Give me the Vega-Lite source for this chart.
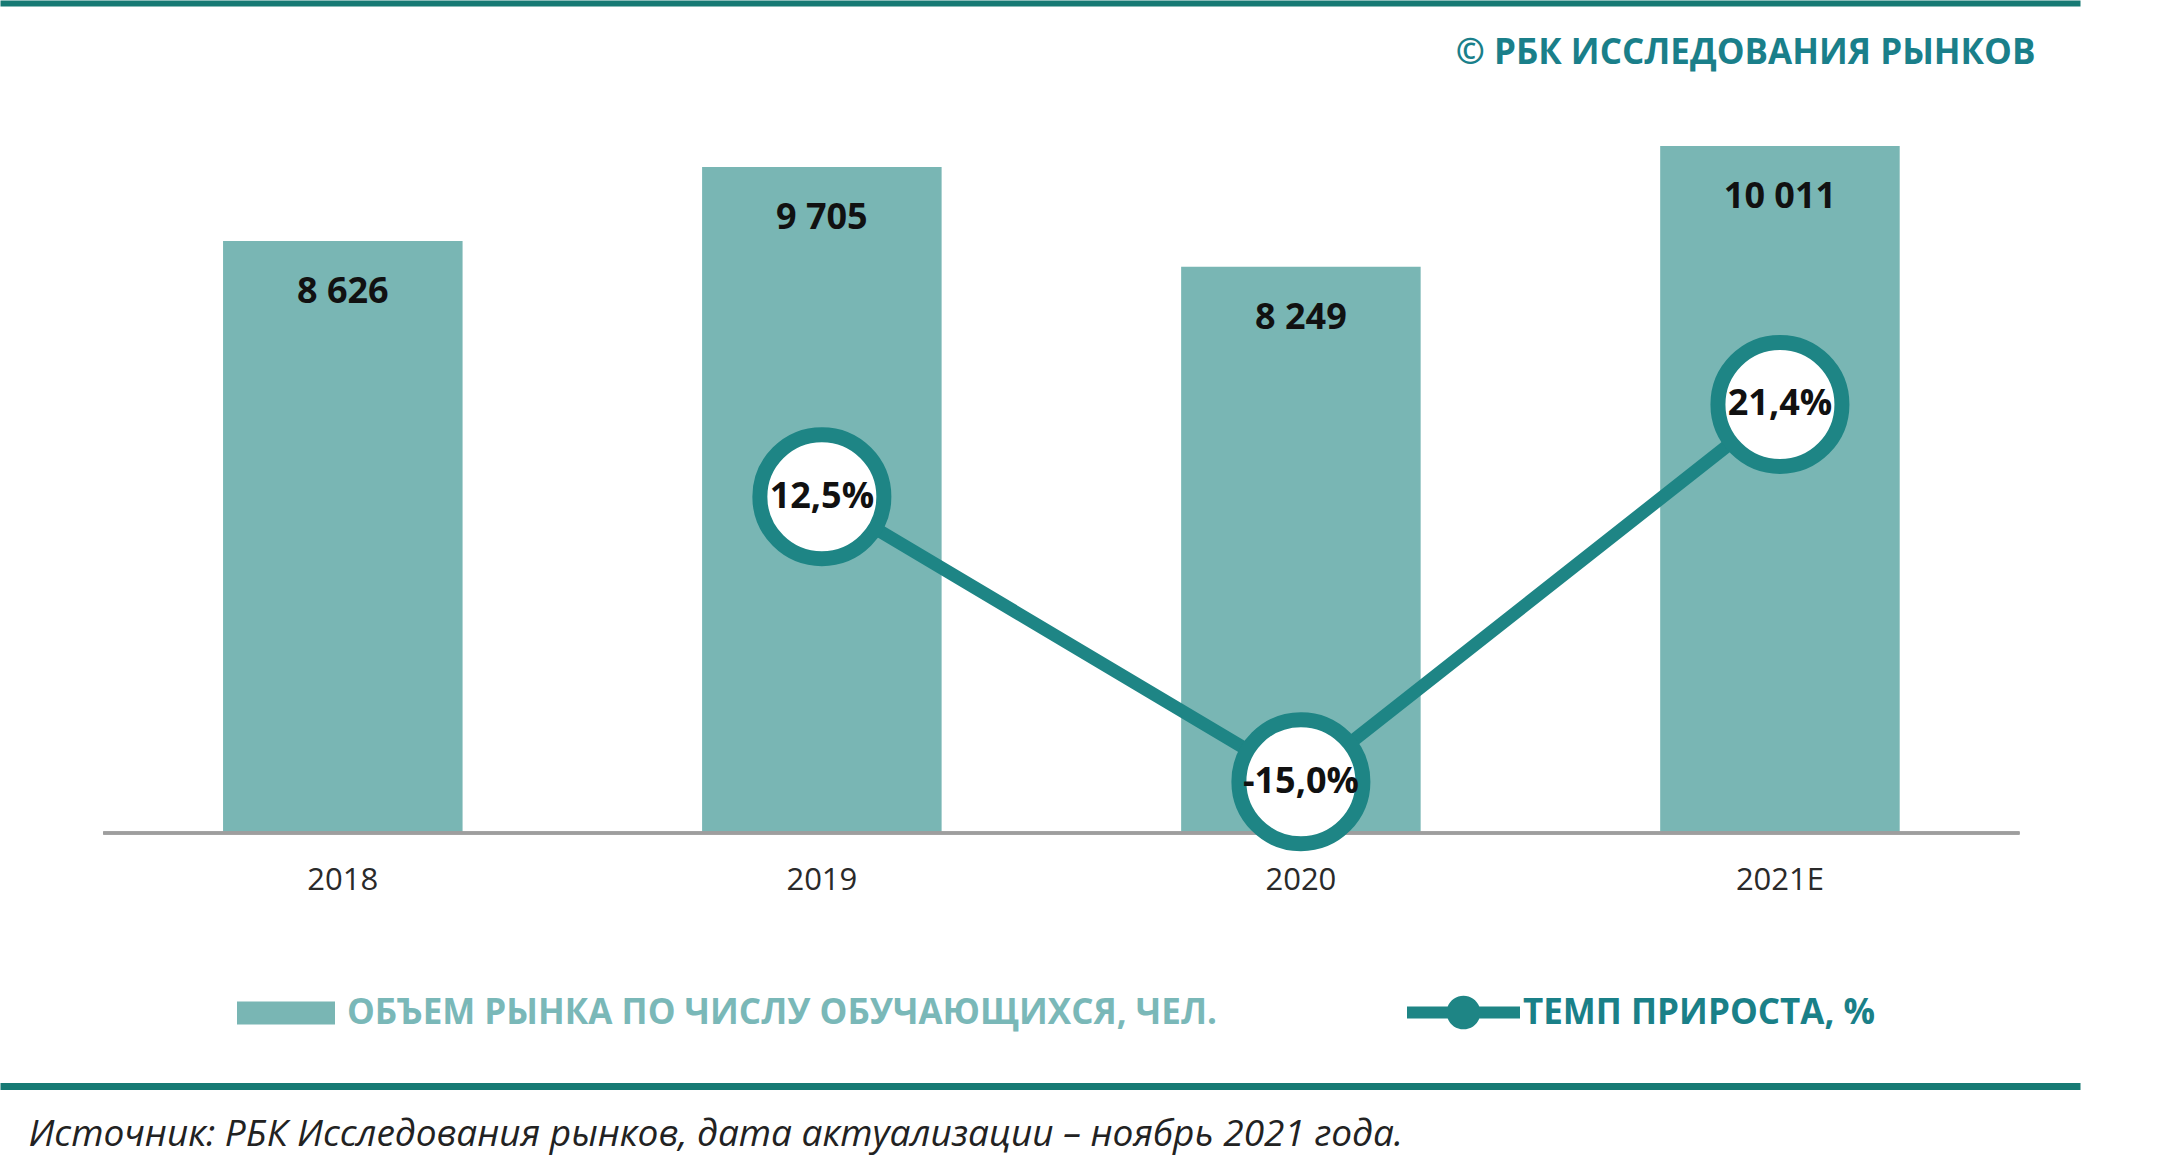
{
  "$schema": "https://vega.github.io/schema/vega-lite/v6.json",
  "width": 2080,
  "height": 755,
  "autosize": {"type": "none"},
  "padding": {"left": 0, "top": 78, "right": 80, "bottom": 343},
  "background": "white",
  "config": {
    "view": {"stroke": null},
    "font": "Open Sans",
    "locale": {"number": {"decimal": ",", "thousands": " ", "grouping": [3], "currency": ["", ""], "minus": "-"}}
  },
  "data": {
    "values": [
      {"year": "2018", "value": 8626, "growth": null},
      {"year": "2019", "value": 9705, "growth": 0.125},
      {"year": "2020", "value": 8249, "growth": -0.15},
      {"year": "2021E", "value": 10011, "growth": 0.214}
    ]
  },
  "resolve": {"scale": {"y": "independent"}, "axis": {"x": "independent"}},
  "layer": [
    {
      "mark": {"type": "bar"},
      "encoding": {
        "x": {
          "field": "year", "type": "nominal", "sort": null,
          "scale": {"paddingInner": 0.5, "paddingOuter": 0.421, "align": 0.553},
          "axis": {
            "orient": "bottom", "title": null, "domain": false, "ticks": false, "tickSize": 0,
            "labelPadding": 47, "labelBaseline": "middle", "labelAngle": 0,
            "labelFont": "Open Sans", "labelFontSize": 31, "labelColor": "#2a2a2a"
          }
        },
        "y": {"field": "value", "type": "quantitative", "scale": {"domain": [0, 11000]}, "axis": null},
        "fill": {
          "datum": "ОБЪЕМ РЫНКА ПО ЧИСЛУ ОБУЧАЮЩИХСЯ, ЧЕЛ.",
          "type": "nominal",
          "scale": {"range": ["#79b6b4"]},
          "legend": {
            "orient": "none", "legendX": 237, "legendY": 886, "title": null, "padding": 0,
            "symbolType": "M-1,-0.235H1V0.235H-1Z", "symbolSize": 9604, "symbolStrokeWidth": 0,
            "labelOffset": 12, "labelFont": "Open Sans", "labelFontSize": 35, "labelFontWeight": "bold",
            "labelColor": "#7ab8b8", "labelLimit": 0
          }
        }
      }
    },
    {
      "mark": {"type": "rule", "color": "#9e9e9e", "strokeWidth": 3},
      "encoding": {
        "x": {"datum": "2018", "type": "nominal", "bandPosition": -0.5, "axis": null},
        "x2": {"datum": "2021E", "bandPosition": 1.5},
        "y": {"datum": 0, "type": "quantitative", "scale": {"domain": [0, 11000]}, "axis": null}
      }
    },
    {
      "mark": {"type": "text", "dy": 51, "baseline": "middle", "font": "Open Sans", "fontSize": 36, "fontWeight": "bold", "color": "#111111"},
      "encoding": {
        "x": {"field": "year", "type": "nominal", "sort": null, "axis": null},
        "y": {"field": "value", "type": "quantitative", "scale": {"domain": [0, 11000]}, "axis": null},
        "text": {"field": "value", "type": "quantitative", "format": ",d"}
      }
    },
    {
      "mark": {"type": "line", "strokeWidth": 13},
      "encoding": {
        "x": {
          "field": "year", "type": "nominal", "sort": null,
          "axis": {
            "orient": "top", "offset": 75, "domain": true, "domainColor": "#177a74", "domainWidth": 6,
            "ticks": false, "labels": false, "grid": false,
            "title": "© РБК ИССЛЕДОВАНИЯ РЫНКОВ",
            "titleX": 2035, "titleY": 60, "titleAlign": "right", "titleBaseline": "alphabetic", "titleAngle": 0,
            "titleFont": "Open Sans", "titleFontSize": 35, "titleFontWeight": "bold", "titleColor": "#1a7f8a"
          }
        },
        "y": {"field": "growth", "type": "quantitative", "scale": {"domain": [-0.1995, 0.529]}, "axis": null},
        "stroke": {
          "datum": "ТЕМП ПРИРОСТА, %",
          "type": "nominal",
          "scale": {"range": ["#1e8585"]},
          "legend": {
            "orient": "none", "legendX": 1407, "legendY": 878, "title": null, "padding": 0,
            "symbolType": "M-1,-0.106H-0.28A0.3,0.3 0 0,1 0.28,-0.106H1V0.106H0.28A0.3,0.3 0 0,1 -0.28,0.106H-1Z",
            "symbolSize": 12769, "symbolStrokeWidth": 0, "symbolFillColor": "#1e8585",
            "labelOffset": 3, "labelFont": "Open Sans", "labelFontSize": 35, "labelFontWeight": "bold",
            "labelColor": "#1a8088", "labelLimit": 0,
            "encode": {"symbols": {"update": {"fill": {"value": "#1e8585"}, "strokeWidth": {"value": 0}}}}
          }
        }
      }
    },
    {
      "mark": {"type": "point", "shape": "circle", "filled": false, "fill": "white", "fillOpacity": 1, "stroke": "#1e8585", "strokeWidth": 15, "size": 15376, "opacity": 1},
      "encoding": {
        "x": {
          "field": "year", "type": "nominal", "sort": null,
          "axis": {
            "orient": "bottom", "offset": 253, "domain": true, "domainColor": "#177a74", "domainWidth": 7,
            "ticks": false, "labels": false, "grid": false,
            "title": "Источник: РБК Исследования рынков, дата актуализации – ноябрь 2021 года.",
            "titleX": 28, "titleY": 48, "titleAlign": "left", "titleBaseline": "middle", "titleAngle": 0,
            "titleFont": "Open Sans", "titleFontSize": 37, "titleFontStyle": "italic", "titleFontWeight": "normal", "titleColor": "#222222"
          }
        },
        "y": {"field": "growth", "type": "quantitative", "scale": {"domain": [-0.1995, 0.529]}, "axis": null}
      }
    },
    {
      "mark": {"type": "text", "baseline": "middle", "font": "Open Sans", "fontSize": 36, "fontWeight": "bold", "color": "#111111"},
      "encoding": {
        "x": {"field": "year", "type": "nominal", "sort": null, "axis": null},
        "y": {"field": "growth", "type": "quantitative", "scale": {"domain": [-0.1995, 0.529]}, "axis": null},
        "text": {"field": "growth", "type": "quantitative", "format": ".1%"}
      }
    }
  ]
}
